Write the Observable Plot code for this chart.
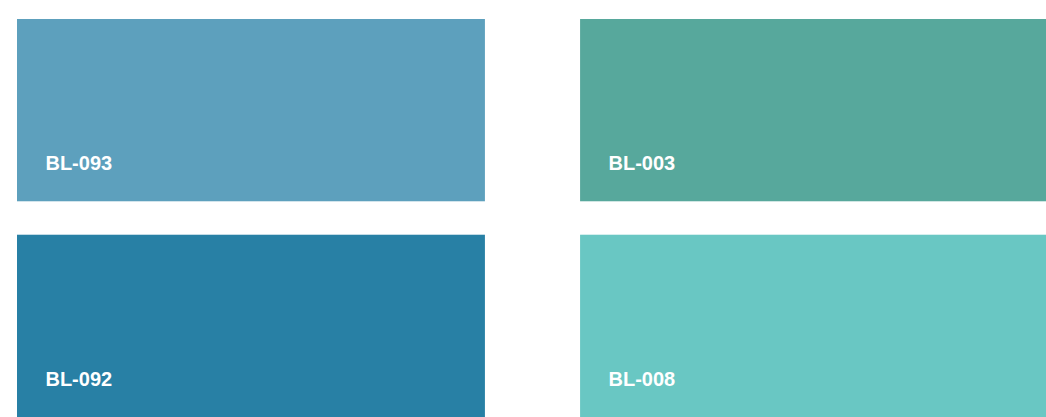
<!DOCTYPE html>
<html>
<head>
<meta charset="utf-8">
<script src="https://cdn.jsdelivr.net/npm/d3@7"></script>
<script src="https://cdn.jsdelivr.net/npm/@observablehq/plot@0.6"></script>
<style>
  html, body { margin: 0; padding: 0; background: #ffffff; }
  #chart svg { display: block; }
</style>
</head>
<body>
<div id="chart"></div>
<script>
const codes = ["BL-093", "BL-003", "BL-092", "BL-008"];
const colors = ["#5DA0BD", "#57A89C", "#2880A5", "#69C7C3"];
const columns = ["left", "right", "left", "right"];
const rows = ["top", "top", "bottom", "bottom"];

const data = codes.map((c, i) => ({code: c, color: colors[i], col: columns[i], row: rows[i]}));

const chart = Plot.plot({
  width: 1046,
  height: 417,
  marginLeft: 17,
  marginRight: -2,
  marginTop: 19,
  marginBottom: 0,
  x: {type: "band", domain: ["left", "right"], paddingInner: 0.169, paddingOuter: 0, round: false, axis: null},
  y: {type: "band", domain: ["top", "bottom"], paddingInner: 0.155, paddingOuter: 0, round: false, axis: null},
  color: {type: "identity"},
  style: {background: "#ffffff"},
  marks: [
    Plot.cell(data, {x: "col", y: "row", fill: "color"}),
    Plot.text(data, {
      x: "col", y: "row", text: "code",
      textAnchor: "start", dx: -206, dy: 53,
      fill: "#ffffff", fontSize: 20, fontWeight: "bold",
      fontFamily: "'Liberation Sans', Arial, sans-serif"
    })
  ]
});
document.getElementById("chart").appendChild(chart);
</script>
</body>
</html>
